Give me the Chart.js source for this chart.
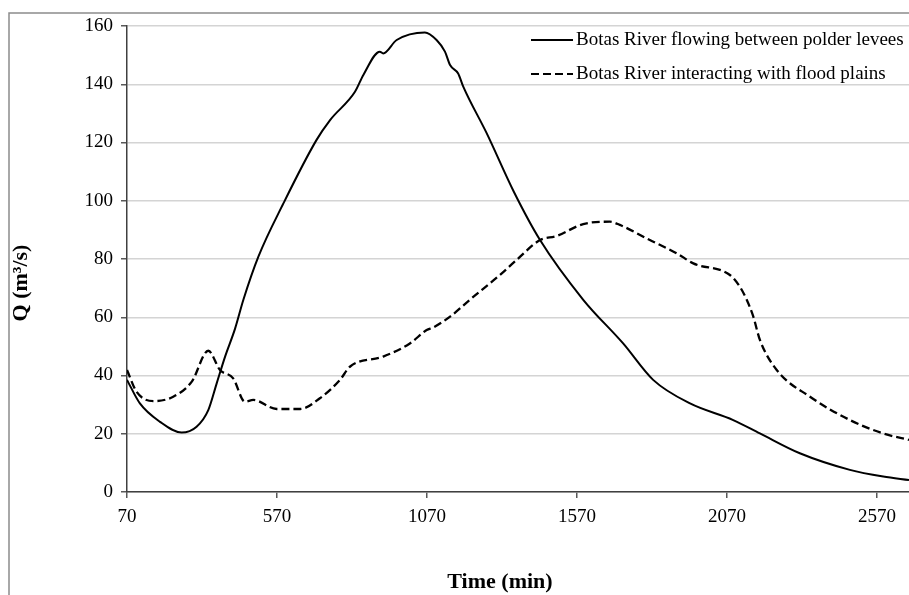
<!DOCTYPE html>
<html>
<head>
<meta charset="utf-8">
<script src="https://cdn.jsdelivr.net/npm/chart.js@4.4.1/dist/chart.umd.min.js"></script>
<style>
  html, body { margin: 0; padding: 0; background: #fff; }
  #wrap { width: 909px; height: 595px; }
</style>
</head>
<body>
<div id="wrap"><canvas id="flowChart"></canvas></div>
<script>
// series 1: river between polder levees
var leveeTime = [70, 113, 180, 252, 302, 341, 369, 397, 430, 458, 508, 591, 702, 747, 830, 858, 913, 924, 969, 1063,
                 1102, 1130, 1147, 1174, 1191, 1269, 1360, 1447, 1591, 1724, 1824, 1947, 2091, 2180, 2313, 2480, 2591, 2677];
var leveeFlow = [38.5, 30.4, 24.1, 20.4, 22.4, 28.1, 37.3, 46.5, 56, 66, 80.8, 99, 120.9, 127.7, 137.4, 143.2, 151.2, 150.6, 155.2, 157.8,
                 155.2, 151.2, 146.6, 143.7, 139.2, 123.2, 103, 86.5, 66, 51, 38.5, 30.4, 24.7, 20.1, 13.3, 7.6, 5.3, 4.1];

// series 2: river interacting with flood plains
var plainTime = [70, 102, 158, 224, 286, 341, 380, 424, 463, 491, 569, 647, 713, 780, 813, 924, 1013, 1069, 1091, 1147,
                 1213, 1313, 1369, 1447, 1502, 1591, 1680, 1713, 1813, 1902, 1958, 2080, 2113, 2136, 2158, 2180, 2236, 2347, 2480, 2591, 2677];
var plainFlow = [41.9, 34.4, 31.2, 32.7, 37.9, 48.5, 41.9, 39, 31, 31.6, 28.5, 28.5, 32.2, 38.5, 43, 46.5, 51, 55.6, 56.5, 60.2,
                 66, 74.5, 79.7, 86.5, 87.9, 92, 92.8, 91.7, 86.5, 82, 78.5, 74.5, 70.5, 66, 60.2, 52.2, 41.9, 32.7, 24.7, 20.1, 17.9];

var seriesNames = ["Botas River flowing between polder levees", "Botas River interacting with flood plains"];
var xTicks = [70, 570, 1070, 1570, 2070, 2570];
var xTitle = "Time (min)";
var yTitle = "Q (m³/s)";

function toPoints(xs, ys) {
  return xs.map(function (x, i) { return {x: x, y: ys[i]}; });
}

var serif = "'Liberation Serif', 'Times New Roman', serif";

// frame round the whole figure + axis titles
var framePlugin = {
  id: "frame",
  beforeDraw: function (chart) {
    var c = chart.ctx;
    c.save();
    c.strokeStyle = "#8c8c8c";
    c.lineWidth = 1.5;
    c.beginPath();
    c.moveTo(9, chart.height);
    c.lineTo(9, 13);
    c.lineTo(chart.width, 13);
    c.stroke();
    c.restore();
  },
  afterDraw: function (chart) {
    var c = chart.ctx;
    c.save();
    c.fillStyle = "#000";
    c.font = "bold 22px " + serif;
    c.textAlign = "center";
    c.textBaseline = "middle";
    c.fillText(xTitle, 500, 582);
    c.translate(21, 283);
    c.rotate(-Math.PI / 2);
    c.fillText(yTitle, 0, 0);
    c.restore();
  }
};

// legend drawn inside the plot, top right
var innerLegend = {
  id: "innerLegend",
  afterDraw: function (chart) {
    var c = chart.ctx;
    c.save();
    c.font = "19px " + serif;
    c.textBaseline = "middle";
    chart.data.datasets.forEach(function (ds, i) {
      var y = 40 + i * 34;
      c.strokeStyle = ds.borderColor;
      c.lineWidth = 2;
      c.setLineDash(ds.borderDash || []);
      c.beginPath();
      c.moveTo(531, y);
      c.lineTo(573, y);
      c.stroke();
      c.setLineDash([]);
      c.fillStyle = "#000";
      c.fillText(ds.label, 576, y);
    });
    c.restore();
  }
};

new Chart("flowChart", {
  type: "line",
  data: {
    datasets: [{
      label: seriesNames[0],
      data: toPoints(leveeTime, leveeFlow),
      borderColor: "#000",
      borderWidth: 2,
      pointRadius: 0,
      cubicInterpolationMode: "monotone"
    }, {
      label: seriesNames[1],
      data: toPoints(plainTime, plainFlow),
      borderColor: "#000",
      borderWidth: 2.3,
      borderDash: [8, 4],
      pointRadius: 0,
      cubicInterpolationMode: "monotone"
    }]
  },
  options: {
    responsive: true,
    maintainAspectRatio: false,
    animation: false,
    layout: {padding: {top: 26, left: 0, right: 0, bottom: 0}},
    plugins: {
      legend: {display: false},
      tooltip: {enabled: false}
    },
    scales: {
      x: {
        type: "linear",
        min: 70,
        max: 2677,
        afterBuildTicks: function (scale) {
          scale.ticks = xTicks.map(function (v) { return {value: v}; });
        },
        afterFit: function (scale) { scale.height = 103; },
        grid: {drawOnChartArea: false, drawTicks: true, tickLength: 6, tickColor: "#595959", lineWidth: 1.5},
        border: {color: "#404040", width: 1.5},
        ticks: {
          color: "#000", font: {family: serif, size: 19}, padding: 8, maxRotation: 0, autoSkip: false,
          callback: function (v) { return String(v); }
        }
      },
      y: {
        min: 0,
        max: 160,
        ticks: {stepSize: 20, color: "#000", font: {family: serif, size: 19}, padding: 8},
        afterFit: function (scale) { scale.width = 127; },
        grid: {color: "#d4d4d4", lineWidth: 1.5, tickLength: 6, tickColor: "#595959"},
        border: {color: "#404040", width: 1.5}
      }
    }
  },
  plugins: [framePlugin, innerLegend]
});
</script>
</body>
</html>
